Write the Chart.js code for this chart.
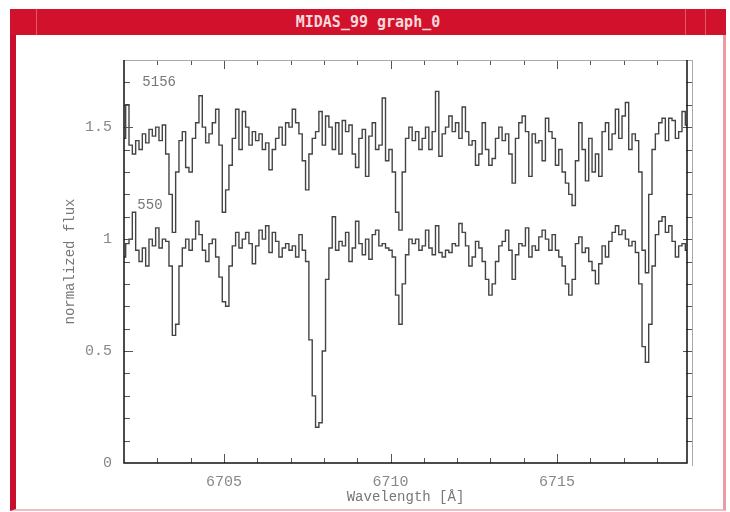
<!DOCTYPE html>
<html>
<head>
<meta charset="utf-8">
<script src="https://cdn.jsdelivr.net/npm/chart.js"></script>
<style>
html, body { margin: 0; padding: 0; background: #fff; }
#wrap { position: relative; width: 730px; height: 512px; overflow: hidden; }
#win { position: absolute; left: 10px; top: 9px; width: 716px; height: 502px; background: #fff;
       border-left: 6px solid #c8102e; border-right: 3px solid #ec9aa6; border-bottom: 2px solid #f2bcc4;
       box-sizing: border-box; }
#bar { position: absolute; left: 10px; top: 9px; width: 716px; height: 26px; background: #d2122d;
       color: #f9d9dc; font: bold 15px "DejaVu Sans Mono", monospace; text-align: center; line-height: 27px; }
.sep { position: absolute; top: 9px; width: 1px; height: 26px; background: #e4566a; }
canvas { position: absolute; left: 0; top: 0; }
</style>
</head>
<body>
<div id="wrap">
  <div id="win"></div>
  <div id="bar">MIDAS_99 graph_0</div>
  <div class="sep" style="left:36px"></div>
  <div class="sep" style="left:685px"></div>
  <div class="sep" style="left:705px"></div>
  <canvas id="graph" width="730" height="512"></canvas>
</div>
<script>
// wavelength grid of the spectra (start + step, 0.1 A bins)
var waveStart = 6702.0;
var waveStep = 0.1;

// star 5156 (offset spectrum, upper)
var flux5156 = [
  1.45, 1.60, 1.42, 1.38, 1.44, 1.40, 1.47, 1.43, 1.49, 1.46,
  1.50, 1.44, 1.51, 1.38, 1.20, 1.03, 1.30, 1.44, 1.48, 1.32,
  1.30, 1.45, 1.52, 1.64, 1.50, 1.43, 1.47, 1.52, 1.58, 1.42,
  1.12, 1.22, 1.33, 1.45, 1.58, 1.40, 1.57, 1.50, 1.42, 1.48,
  1.44, 1.47, 1.40, 1.43, 1.31, 1.40, 1.45, 1.50, 1.42, 1.52,
  1.50, 1.58, 1.52, 1.47, 1.35, 1.22, 1.38, 1.45, 1.48, 1.57,
  1.42, 1.55, 1.50, 1.40, 1.52, 1.38, 1.53, 1.48, 1.51, 1.38,
  1.32, 1.45, 1.49, 1.28, 1.46, 1.52, 1.40, 1.42, 1.63, 1.35,
  1.40, 1.30, 1.12, 1.04, 1.30, 1.45, 1.50, 1.44, 1.48, 1.40,
  1.45, 1.50, 1.40, 1.48, 1.66, 1.37, 1.47, 1.50, 1.55, 1.48,
  1.52, 1.45, 1.59, 1.48, 1.42, 1.44, 1.33, 1.38, 1.52, 1.40,
  1.33, 1.36, 1.45, 1.50, 1.44, 1.47, 1.38, 1.25, 1.45, 1.52,
  1.55, 1.48, 1.28, 1.47, 1.43, 1.44, 1.35, 1.54, 1.48, 1.45,
  1.33, 1.40, 1.30, 1.25, 1.20, 1.15, 1.35, 1.52, 1.40, 1.26,
  1.45, 1.30, 1.38, 1.28, 1.48, 1.52, 1.40, 1.47, 1.58, 1.45,
  1.55, 1.61, 1.40, 1.47, 1.44, 1.30, 0.95, 0.85, 1.20, 1.40,
  1.47, 1.52, 1.54, 1.44, 1.54, 1.53, 1.45, 1.48, 1.57, 1.51
];

// star 550 (lower)
var flux550 = [
  0.92, 0.98, 1.00, 1.12, 0.95, 0.90, 0.96, 0.88, 1.00, 0.97,
  1.05, 0.96, 1.00, 0.99, 0.88, 0.57, 0.62, 0.88, 0.96, 1.00,
  0.95, 1.00, 1.08, 1.02, 0.95, 0.90, 0.98, 1.00, 0.92, 0.83,
  0.72, 0.70, 0.88, 0.97, 1.03, 0.96, 1.00, 1.03, 0.98, 0.89,
  0.97, 1.04, 1.00, 1.06, 0.94, 1.03, 0.99, 0.92, 0.96, 0.98,
  0.95, 0.97, 0.92, 1.02, 0.95, 0.90, 0.55, 0.30, 0.16, 0.18,
  0.50, 0.82, 0.96, 1.10, 0.95, 0.99, 0.97, 1.03, 0.90, 0.96,
  1.08, 0.98, 0.93, 1.00, 0.91, 1.02, 1.04, 0.97, 0.98, 0.96,
  0.95, 0.92, 0.75, 0.62, 0.80, 0.93, 1.00, 0.98, 1.00, 0.95,
  0.97, 1.04, 0.96, 0.93, 1.06, 0.94, 0.92, 0.95, 0.94, 0.98,
  0.97, 1.07, 1.03, 0.97, 0.88, 0.92, 0.99, 0.96, 0.90, 0.82,
  0.75, 0.80, 0.90, 0.97, 0.99, 1.04, 0.95, 0.82, 0.93, 0.98,
  0.97, 1.05, 0.92, 0.97, 0.95, 1.01, 1.04, 1.00, 0.95, 1.02,
  0.95, 0.92, 0.88, 0.80, 0.75, 0.82, 0.98, 1.01, 0.94, 0.96,
  0.90, 0.86, 0.80, 0.89, 0.97, 0.92, 0.99, 1.03, 1.06, 1.02,
  1.04, 1.00, 0.97, 0.99, 0.94, 0.80, 0.52, 0.45, 0.62, 0.88,
  1.02, 1.08, 1.10, 1.03, 1.06, 0.99, 0.92, 0.97, 0.98, 0.95
];

var xLabelTicks = [6705, 6710, 6715];
var xMinorTicks = [6703, 6704, 6705, 6706, 6707, 6708, 6709, 6710, 6711, 6712, 6713, 6714, 6715, 6716, 6717, 6718];
var yLabelTicks = [0, 0.5, 1, 1.5];
var yMinorTicks = [0.1, 0.2, 0.3, 0.4, 0.5, 0.6, 0.7, 0.8, 0.9, 1.0, 1.1, 1.2, 1.3, 1.4, 1.5, 1.6, 1.7];
var starLabels = [
  { text: '5156', x: 6702.55, y: 1.70 },
  { text: '550',  x: 6702.40, y: 1.15 }
];

function toPoints(flux) {
  return flux.map(function(f, i) {
    return { x: +(waveStart + i * waveStep).toFixed(2), y: f };
  });
}

// marcas de los ejes hacia dentro, marco y etiquetas de las estrellas
var frameAndTicks = {
  id: 'frameAndTicks',
  afterDraw: function(chart) {
    var ctx = chart.ctx, a = chart.chartArea;
    var xs = chart.scales.x, ys = chart.scales.y;
    ctx.save();
    ctx.lineWidth = 1;
    ctx.strokeStyle = '#555';
    ctx.beginPath();
    xMinorTicks.forEach(function(v) {
      var px = Math.round(xs.getPixelForValue(v)) + 0.5;
      var len = xLabelTicks.indexOf(v) >= 0 ? 9 : 5;
      ctx.moveTo(px, a.bottom); ctx.lineTo(px, a.bottom - len);
      ctx.moveTo(px, a.top); ctx.lineTo(px, a.top + len);
    });
    yMinorTicks.forEach(function(v) {
      var py = Math.round(ys.getPixelForValue(v)) + 0.5;
      var len = (Math.abs(v * 2 - Math.round(v * 2)) < 1e-6) ? 9 : 6;
      ctx.moveTo(a.left, py); ctx.lineTo(a.left + len, py);
      ctx.moveTo(a.right + 5, py); ctx.lineTo(a.right + 5 - len, py);
    });
    ctx.stroke();

    // marco
    ctx.strokeStyle = '#aaa';
    ctx.beginPath();
    ctx.moveTo(a.left, a.top + 0.5); ctx.lineTo(a.right + 5, a.top + 0.5);
    ctx.moveTo(a.right + 5.5, a.top); ctx.lineTo(a.right + 5.5, a.bottom + 3);
    ctx.stroke();
    ctx.strokeStyle = '#111';
    ctx.lineWidth = 1.5;
    ctx.beginPath();
    ctx.moveTo(a.left, a.top); ctx.lineTo(a.left, a.bottom);
    ctx.lineTo(a.right, a.bottom); ctx.lineTo(a.right, a.top);
    ctx.stroke();

    ctx.fillStyle = '#777';
    ctx.font = '14px "Liberation Mono", monospace';
    ctx.textBaseline = 'middle';
    starLabels.forEach(function(l) {
      ctx.fillText(l.text, xs.getPixelForValue(l.x), ys.getPixelForValue(l.y));
    });
    ctx.restore();
  }
};

var tickFont = { family: '"Liberation Mono", monospace', size: 15 };

new Chart(document.getElementById('graph').getContext('2d'), {
  type: 'line',
  data: {
    datasets: [
      { label: '5156', data: toPoints(flux5156), borderColor: '#444', borderWidth: 1.4,
        pointRadius: 0, stepped: 'middle', fill: false },
      { label: '550', data: toPoints(flux550), borderColor: '#444', borderWidth: 1.4,
        pointRadius: 0, stepped: 'middle', fill: false }
    ]
  },
  options: {
    responsive: false,
    animation: false,
    layout: { padding: { left: 54, top: 60, right: 43, bottom: 6 } },
    plugins: { legend: { display: false }, tooltip: { enabled: false } },
    scales: {
      x: {
        type: 'linear', min: 6702, max: 6718.9,
        afterFit: function(s) { s.height = 43; },
        afterBuildTicks: function(s) { s.ticks = xLabelTicks.map(function(v) { return { value: v }; }); },
        grid: { display: false, drawTicks: false },
        border: { display: false },
        ticks: { color: '#888', font: tickFont, padding: 10, maxRotation: 0, autoSkip: false,
                 callback: function(v) { return String(v); } },
        title: { display: true, text: 'Wavelength [Å]', color: '#777',
                 font: { family: '"Liberation Mono", monospace', size: 14 }, padding: { top: 0, bottom: 0 } }
      },
      y: {
        min: 0, max: 1.8,
        afterFit: function(s) { s.width = 70; },
        afterBuildTicks: function(s) { s.ticks = yLabelTicks.map(function(v) { return { value: v }; }); },
        grid: { display: false, drawTicks: false },
        border: { display: false },
        ticks: { color: '#888', font: tickFont, padding: 12,
                 callback: function(v) { return String(v); } },
        title: { display: true, text: 'normalized flux', color: '#777',
                 font: { family: '"Liberation Mono", monospace', size: 14 }, padding: { top: 8, bottom: 0 } }
      }
    }
  },
  plugins: [frameAndTicks]
});
</script>
</body>
</html>
